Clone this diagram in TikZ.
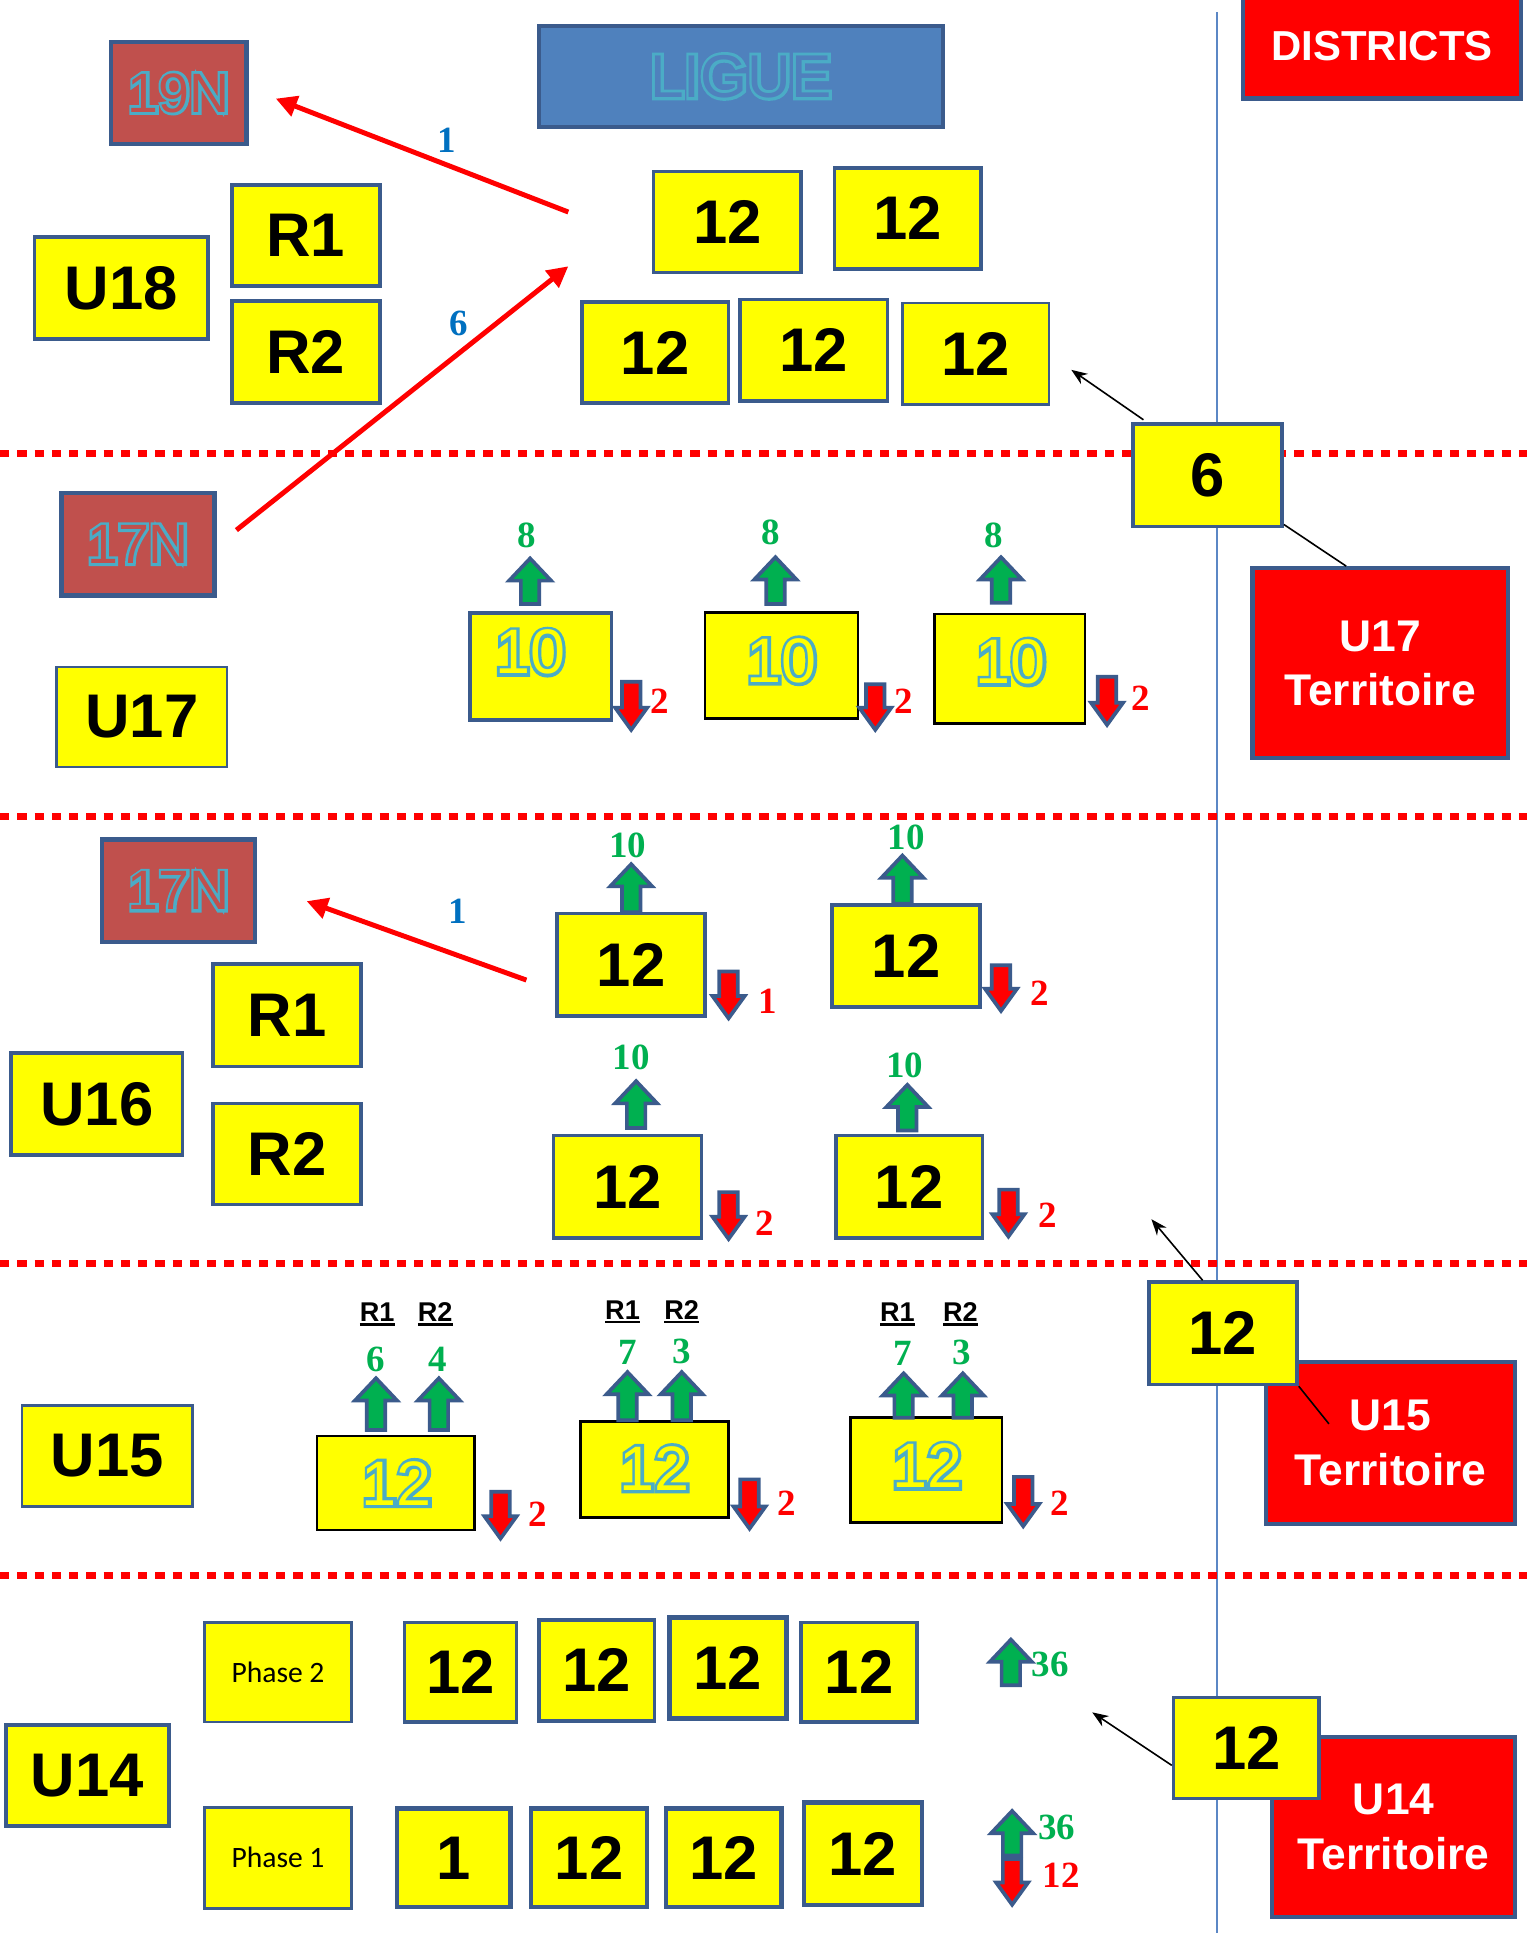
\documentclass[tikz,border=0pt]{standalone}
\usepackage{fontspec}
\setmainfont{Liberation Sans}
\newfontfamily\serifb{Liberation Serif}
\newfontfamily\calib{Carlito}
\newfontfamily\olfont{Liberation Sans}
\newfontfamily\olbfont[FakeBold=10]{Liberation Sans}
\usetikzlibrary{arrows.meta}
\definecolor{yel}{HTML}{FFFF00}
\definecolor{bdr}{HTML}{3B5B8C}
\definecolor{brn}{HTML}{C0504D}
\definecolor{lblue}{HTML}{4F81BD}
\definecolor{olc}{HTML}{4BACC6}
\definecolor{tgrn}{HTML}{00B050}
\definecolor{labblue}{HTML}{0070C0}
\definecolor{vlinec}{HTML}{5B87C5}
\newcommand{\otext}[3]{\fontsize{#1}{#1}\selectfont\makebox[0pt][l]{\olbfont\color{olc}#3}{\olfont\color{#2}#3}}
\newcommand{\bx}[7]{\node[#2, minimum width={#5-#3}, minimum height={#6-#4}] (#1) at ({(#3+#5)/2},{(#4+#6)/2}) {#7};}
\newcommand{\uparr}[3]{\draw[blockarr,fill=tgrn] ({#1-7.5},#2) -- ({#1-7.5},{#3+18}) -- ({#1-17},{#3+18}) -- (#1,#3) -- ({#1+17},{#3+18}) -- ({#1+7.5},{#3+18}) -- ({#1+7.5},#2) -- cycle;}
\newcommand{\dnarr}[3]{\draw[blockarr,fill=red] ({#1-7.5},#2) -- ({#1-7.5},{#3-18}) -- ({#1-13},{#3-18}) -- (#1,#3) -- ({#1+13},{#3-18}) -- ({#1+7.5},{#3-18}) -- ({#1+7.5},#2) -- cycle;}
\newcommand{\ulr}[1]{\leavevmode\vtop{\hbox{#1}\kern1.5pt\hrule height 2pt}}
\begin{document}
\begin{tikzpicture}[x=1pt,y=-1pt,
  ybox/.style={draw=bdr, line width=3pt, fill=yel, inner sep=0pt},
  thinbox/.style={ybox, line width=2pt},
  kbox/.style={draw=black, line width=2pt, fill=yel, inner sep=0pt},
  bbox/.style={ybox, fill=brn, line width=3.5pt},
  bigt/.style={font=\fontsize{50}{60}\selectfont\bfseries},
  terr/.style={draw=bdr, line width=3.5pt, fill=red, text=white, align=center, inner sep=0pt, font=\fontsize{36}{44}\selectfont\bfseries},
  num/.style={inner sep=0pt, font=\fontsize{30}{36}\selectfont\serifb\bfseries},
  gnum/.style={num, text=tgrn},
  rnum/.style={num, text=red},
  bnum/.style={num, text=labblue},
  rlab/.style={inner sep=0pt, anchor=base, font=\fontsize{22}{26}\selectfont\bfseries},
  phase/.style={thinbox, font=\fontsize{24}{28}\selectfont\calib},
  otxt/.style={inner sep=0pt},
  dotline/.style={red, line width=5.5pt, dash pattern=on 7.5pt off 6.5pt},
  vline/.style={vlinec, line width=1.5pt},
  redarr/.style={red, line width=4pt, -{Triangle[length=17pt,width=17pt]}},
  blkarr/.style={black, line width=1.3pt, -{Stealth[length=13pt,width=10pt]}},
  blkline/.style={black, line width=1.3pt},
  blockarr/.style={draw=bdr, line width=3pt, line join=miter}
]
\useasboundingbox[fill=white] (0,0) rectangle (1239,1568);
% background lines
\draw[vline] (987,10) -- (987,1568);
\foreach \yy in {368,662,1025,1278} \draw[dotline] (0,\yy) -- (1239,\yy);

% ---------- U18 / top section
\bx{ligue}{ybox,fill=lblue,line width=3.5pt}{437}{21}{765}{103}{\otext{49}{lblue}{LIGUE}}
\bx{dist}{terr}{1008}{-6}{1234}{80}{\fontsize{34}{40}\selectfont DISTRICTS}
\bx{n19}{bbox}{90}{34}{200}{117}{\otext{45}{brn}{19N}}
\bx{u18}{ybox,bigt}{28}{192}{169}{275}{U18}
\bx{r1a}{ybox,bigt}{188}{150}{308}{232}{R1}
\bx{r2a}{ybox,bigt}{188}{244}{308}{327}{R2}
\bx{t1}{ybox,bigt}{530}{139}{650}{221}{12}
\bx{t2}{ybox,bigt}{677}{136}{796}{218}{12}
\bx{t3}{ybox,bigt}{472}{245}{591}{327}{12}
\bx{t4}{ybox,bigt}{600}{243}{720}{325}{12}
\bx{t5}{thinbox,bigt}{732}{246}{851}{328}{12}
\bx{u17t}{terr}{1016}{461}{1223}{615}{U17\\Territoire}
\bx{six}{ybox,bigt}{919}{344}{1040}{427}{6}

\coordinate (a1s) at (461,172);
\coordinate (a2e) at (461,216);
\coordinate (b1e) at (869,300);
\node[bnum] (l1) at (362,114) {1};
\node[bnum] (l6) at (372,262) {6};

% ---------- U17 section
\bx{n17a}{bbox}{50}{400}{174}{483}{\otext{45}{brn}{17N}}
\bx{u17}{thinbox,bigt}{46}{541}{184}{622}{U17}
\bx{ten1}{ybox}{381}{497}{496}{584}{}
\bx{ten2}{kbox}{572}{497}{696}{583}{}
\bx{ten3}{kbox}{758}{498}{880}{587}{}
\node[otxt] (ten1t) at (430,529) {\otext{51}{yel}{10}};
\node[otxt] (ten2t) at (634,536) {\otext{51}{yel}{10}};
\node[otxt] (ten3t) at (820,537) {\otext{51}{yel}{10}};
\uparr{430}{490}{453}
\uparr{629}{490}{452}
\uparr{812}{489}{452}
\node[gnum] (g8a) at (427,434) {8};
\node[gnum] (g8b) at (625,432) {8};
\node[gnum] (g8c) at (806,434) {8};
\dnarr{512}{553}{592}
\dnarr{710}{555}{592}
\dnarr{898}{549}{588}
\node[rnum] (r2x) at (535,569) {2};
\node[rnum] (r2y) at (733,569) {2};
\node[rnum] (r2z) at (925,566) {2};

% ---------- U16 section
\bx{n17b}{bbox}{83}{681}{207}{764}{\otext{45}{brn}{17N}}
\bx{r1b}{ybox,bigt}{173}{782}{293}{865}{R1}
\bx{u16}{ybox,bigt}{9}{854}{148}{937}{U16}
\bx{r2b}{ybox,bigt}{173}{895}{293}{977}{R2}
\bx{s1}{ybox,bigt}{452}{741}{572}{824}{12}
\bx{s2}{ybox,bigt}{675}{734}{795}{817}{12}
\bx{s3}{ybox,bigt}{449}{921}{569}{1004}{12}
\bx{s4}{ybox,bigt}{678}{921}{797}{1004}{12}
\uparr{512}{740}{701}
\uparr{732}{733}{694}
\uparr{516}{915}{877}
\uparr{736}{917}{880}
\node[gnum] (g10a) at (509,686) {10};
\node[gnum] (g10b) at (735,679) {10};
\node[gnum] (g10c) at (512,858) {10};
\node[gnum] (g10d) at (734,864) {10};
\dnarr{591}{788}{826}
\dnarr{812}{783}{820}
\dnarr{591}{967}{1005}
\dnarr{818}{965}{1003}
\node[rnum] (r16a) at (623,812) {1};
\node[rnum] (r16b) at (843,806) {2};
\node[rnum] (r16c) at (620,992) {2};
\node[rnum] (r16d) at (850,986) {2};
\coordinate (a3s) at (427,795);
\node[bnum] (l1b) at (371,739) {1};
\coordinate (b2e) at (934,989);

% ---------- U15 section
\bx{u15}{thinbox,bigt}{18}{1140}{156}{1222}{U15}
\bx{q1}{kbox}{257}{1165}{385}{1241}{}
\bx{q2}{kbox}{471}{1153}{591}{1231}{}
\bx{q3}{kbox}{690}{1150}{813}{1235}{}
\node[otxt] (q1t) at (322,1203) {\otext{51}{yel}{12}};
\node[otxt] (q2t) at (531,1191) {\otext{51}{yel}{12}};
\node[otxt] (q3t) at (752,1189) {\otext{51}{yel}{12}};
\node[rlab] (qa1) at (306,1072) {\ulr{R1}};
\node[rlab] (qa2) at (353,1072) {\ulr{R2}};
\node[rlab] (qb1) at (505,1070) {\ulr{R1}};
\node[rlab] (qb2) at (553,1070) {\ulr{R2}};
\node[rlab] (qc1) at (728,1072) {\ulr{R1}};
\node[rlab] (qc2) at (779,1072) {\ulr{R2}};
\uparr{305}{1160}{1118}
\uparr{356}{1160}{1118}
\uparr{509}{1152}{1113}
\uparr{553}{1152}{1113}
\uparr{733}{1150}{1114}
\uparr{781}{1150}{1114}
\node[gnum] (g15a) at (305,1103) {6};
\node[gnum] (g15b) at (355,1103) {4};
\node[gnum] (g15c) at (509,1097) {7};
\node[gnum] (g15d) at (553,1096) {3};
\node[gnum] (g15e) at (732,1098) {7};
\node[gnum] (g15f) at (780,1097) {3};
\dnarr{406}{1210}{1248}
\dnarr{608}{1200}{1240}
\dnarr{830}{1198}{1238}
\node[rnum] (r15a) at (436,1228) {2};
\node[rnum] (r15b) at (638,1219) {2};
\node[rnum] (r15c) at (860,1219) {2};
\bx{u15t}{terr}{1027}{1105}{1229}{1236}{U15\\Territoire}
\bx{u15d}{ybox,bigt}{932}{1040}{1052}{1123}{12}

% ---------- U14 section
\bx{ph2}{phase}{166}{1316}{285}{1397}{Phase 2}
\bx{ph1}{phase}{166}{1466}{285}{1548}{Phase 1}
\bx{u14}{ybox,bigt}{5}{1399}{137}{1481}{U14}
\bx{pa}{ybox,bigt}{328}{1316}{419}{1397}{12}
\bx{pb}{ybox,bigt}{437}{1314}{531}{1396}{12}
\bx{pc}{ybox,bigt,line width=4pt}{543}{1312}{638}{1394}{12}
\bx{pd}{ybox,bigt}{650}{1316}{744}{1397}{12}
\bx{pe}{ybox,bigt,line width=3.5pt}{322}{1467}{414}{1547}{1}
\bx{pf}{ybox,bigt,line width=3.5pt}{431}{1467}{525}{1547}{12}
\bx{pg}{ybox,bigt,line width=3.5pt}{540}{1467}{634}{1547}{12}
\bx{ph}{ybox,bigt,line width=3.5pt}{652}{1462}{748}{1545}{12}
\uparr{820}{1367}{1330}
\node[gnum] (g14a) at (852,1350) {36};
\uparr{821}{1505}{1469}
\dnarr{821}{1508}{1545}
\node[gnum] (g14b) at (857,1482) {36};
\node[rnum] (r14a) at (861,1521) {12};
\bx{u14t}{terr}{1032}{1409}{1229}{1555}{U14\\Territoire}
\bx{u14d}{ybox,bigt}{952}{1377}{1070}{1459}{12}
\coordinate (b3e) at (886,1389);

% ---------- connectors
\draw[redarr] (a1s) -- ([xshift=22pt,yshift=-4.5pt]n19.east);
\draw[redarr] ([xshift=16pt,yshift=11.5pt]n17a.east) -- (a2e);
\draw[redarr] (a3s) -- ([xshift=40pt,yshift=-8.5pt]n17b.east);
\draw[blkarr] ([xshift=10pt,yshift=2pt]six.north west) -- (b1e);
\draw[blkline] ([yshift=3pt]six.south east) -- ([xshift=-27.5pt]u17t.north);
\draw[blkarr] ([xshift=45pt]u15d.north west) -- (b2e);
\draw[blkline] (u15d.south east) -- ([xshift=-50pt,yshift=15.5pt]u15t.center);
\draw[blkarr] ([yshift=-14pt]u14d.west) -- (b3e);
\end{tikzpicture}
\end{document}
